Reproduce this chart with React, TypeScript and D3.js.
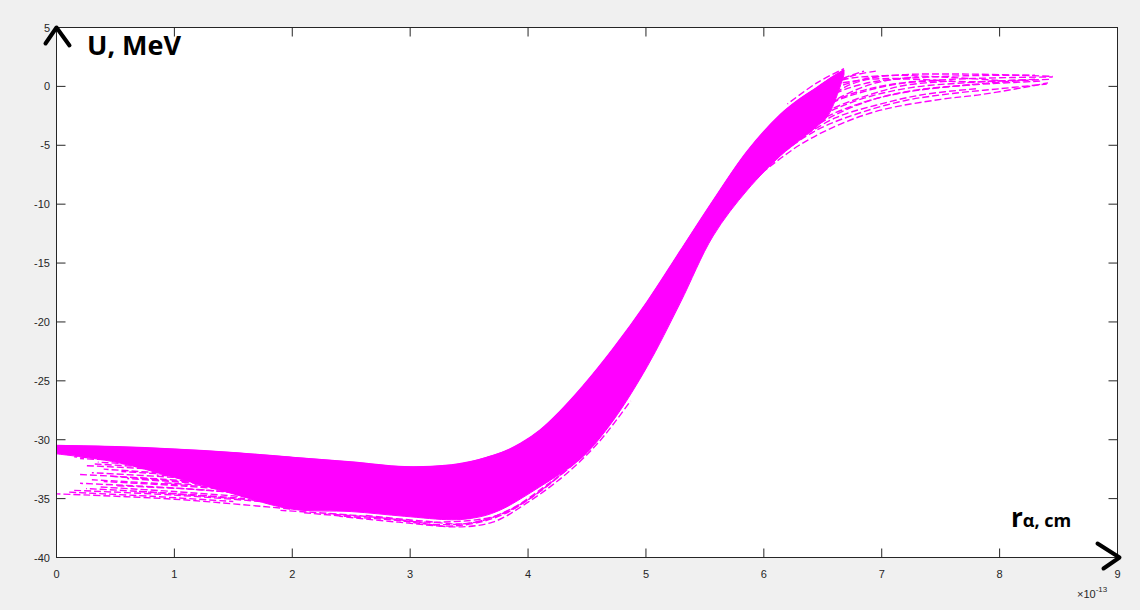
import React from "react";
import * as d3 from "d3";

// ---------- data ----------
const xTicks = [0, 1, 2, 3, 4, 5, 6, 7, 8, 9];
const yTicks = [-40, -35, -30, -25, -20, -15, -10, -5, 0, 5];

// dense core of the curve family
const bandX = [0, 0.5, 1, 1.5, 2, 2.5, 2.95, 3.35, 3.5, 3.65, 3.8, 3.94, 4.1, 4.27, 4.47, 4.72, 5.01, 5.29, 5.57, 5.86, 6.14, 6.3, 6.45, 6.55, 6.68];
const bandUpper = [-30.5, -30.6, -30.8, -31.1, -31.5, -31.9, -32.3, -32.15, -31.9, -31.5, -31.0, -30.3, -29.2, -27.6, -25.4, -22.3, -18.3, -14.0, -9.7, -5.5, -2.4, -1.1, -0.1, 0.6, 1.4];
const bandLower = [-31.2, -31.9, -33.2, -34.6, -35.9, -36.1, -36.5, -36.8, -36.7, -36.4, -35.8, -35.0, -34.0, -32.9, -31.4, -28.4, -23.8, -18.4, -12.7, -8.8, -5.9, -4.6, -3.4, -2.4, 1.0];

// individual dashed curves visible at the ragged lower-left
const leftCurves: [number, number][][] = [
  [[0.3, -31.3], [1.0, -31.7], [1.8, -32.2]],
  [[0.2, -31.6], [1.0, -32.0], [1.8, -32.6]],
  [[0.35, -31.9], [1.0, -32.3], [1.8, -32.9]],
  [[0.25, -32.2], [1.0, -32.6], [1.8, -33.2]],
  [[0.4, -32.5], [1.0, -32.9], [1.8, -33.5]],
  [[0.3, -32.8], [1.0, -33.2], [1.8, -33.8]],
  [[0.45, -33.1], [1.0, -33.5], [1.8, -34.1]],
  [[0.3, -33.4], [1.0, -33.8], [1.8, -34.4]],
  [[0.2, -33.7], [1.0, -34.1], [1.8, -34.7]],
  [[0.35, -34.0], [1.0, -34.4], [1.8, -35.0]],
  [[0.15, -34.3], [1.0, -34.7], [1.8, -35.3]],
  [[0.0, -34.6], [1.0, -35.05], [2.0, -35.9]],
  [[0.5, -31.5], [1.2, -31.9], [2.0, -32.6]],
  [[0.6, -32.1], [1.3, -32.6], [2.0, -33.3]],
  [[0.55, -32.7], [1.3, -33.2], [2.0, -33.9]],
  [[0.6, -33.3], [1.3, -33.8], [2.0, -34.5]],
  [[0.5, -33.9], [1.3, -34.3], [2.0, -35.0]],
  [[0.7, -34.4], [1.4, -34.9], [2.1, -35.5]],
  [[0.15, -31.45], [0.8, -31.8], [1.5, -32.3]],
  [[0.3, -32.05], [0.9, -32.4], [1.6, -32.9]],
  [[0.2, -32.95], [0.9, -33.35], [1.6, -33.9]],
  [[0.4, -33.55], [1.1, -33.95], [1.7, -34.45]],
  [[0.25, -34.15], [0.9, -34.5], [1.6, -35.0]],
  [[0.1, -34.45], [0.8, -34.8], [1.5, -35.25]],
  [[0.8, -32.35], [1.5, -32.85], [2.2, -33.6]],
  [[0.85, -33.0], [1.5, -33.5], [2.2, -34.2]],
  [[0.9, -33.65], [1.6, -34.15], [2.3, -34.9]],
];

// dashed curves at the ragged bottom of the well
const bottomCurves: [number, number][][] = [
  [[1.9, -36.0], [2.5, -36.4], [3.0, -36.9], [3.35, -37.4], [3.7, -37.0], [4.0, -35.3], [4.3, -33.1], [4.6, -30.2], [4.87, -26.7]],
  [[2.3, -36.3], [2.8, -36.7], [3.2, -37.2], [3.6, -36.9], [3.95, -35.4], [4.25, -33.2], [4.55, -30.4]],
  [[2.6, -36.4], [3.1, -36.9], [3.5, -37.1], [3.85, -35.9], [4.15, -33.9], [4.45, -31.5], [4.75, -27.9]],
  [[2.1, -36.2], [2.7, -36.7], [3.25, -37.0], [3.75, -36.4], [4.1, -34.4], [4.4, -31.9]],
  [[2.4, -36.5], [2.9, -37.0], [3.4, -37.3], [3.8, -36.3], [4.2, -33.6]],
];

// dashed curves in the upper-right tail
const tailCurves: [number, number][][] = [
  [[5.9, -5.5], [6.2, -2.5], [6.5, -0.6], [6.84, 0.6], [7.2, 1.0], [7.6, 1.05], [8.0, 1.0], [8.45, 0.85]],
  [[5.9, -6.5], [6.3, -3.0], [6.7, -0.8], [7.1, 0.2], [7.6, 0.6], [8.1, 0.75], [8.45, 0.8]],
  [[6.0, -6.5], [6.4, -3.3], [6.8, -1.5], [7.2, -0.5], [7.7, 0.1], [8.2, 0.5], [8.42, 0.6]],
  [[5.95, -7.6], [6.3, -5.0], [6.65, -3.2], [7.0, -2.0], [7.5, -1.1], [7.84, -0.7], [8.2, -0.1], [8.41, 0.3]],
  [[6.1, -5.2], [6.5, -1.8], [6.9, -0.3], [7.3, 0.4], [7.8, 0.4], [8.3, 0.6]],
  [[6.2, -3.0], [6.6, 0.3], [7.0, 0.9], [7.5, 0.8], [8.0, 0.5]],
  [[6.0, -4.0], [6.4, -0.5], [6.8, 0.5], [7.2, 0.7], [7.7, 0.9], [8.3, 0.95]],
  [[6.05, -6.4], [6.5, -3.0], [6.9, -1.2], [7.3, -0.3], [7.8, 0.15], [8.35, 0.45]],
  [[6.1, -6.0], [6.45, -3.7], [6.8, -2.3], [7.2, -1.2], [7.6, -0.6], [8.0, -0.2], [8.4, 0.2]],
  [[6.15, -4.4], [6.5, -2.4], [6.85, -1.0], [7.25, -0.1], [7.7, 0.3], [8.2, 0.55]],
  [[6.2, -1.5], [6.45, 0.3], [6.68, 1.5]],
  [[6.3, -1.5], [6.55, 0.2], [6.85, 1.3]],
  [[6.35, -2.5], [6.7, 0.0], [7.0, 0.9]],
  [[6.25, -3.8], [6.6, -1.2], [6.95, 0.3], [7.3, 0.8]],
  [[6.2, -2.2], [6.5, -0.2], [6.75, 0.9], [6.95, 1.3]],
  [[6.3, -3.4], [6.6, -1.8], [6.9, -0.7], [7.2, 0.1], [7.6, 0.45]],
  [[6.25, -4.8], [6.6, -2.7], [6.95, -1.6], [7.35, -0.7], [7.8, -0.2]],
  [[6.15, -3.4], [6.5, -1.1], [6.8, 0.1], [7.1, 0.6], [7.5, 0.5]],
];

// ---------- layout ----------
const W = 1140;
const H = 610;
const left = 56.5;
const right = 1117.5;
const top = 27.5;
const bottom = 557.5;
const MAGENTA = "#ff00ff";
const AX = "#262626";

export default function App() {
  const x = d3.scaleLinear().domain([0, 9]).range([left, right]);
  const y = d3.scaleLinear().domain([-40, 5]).range([bottom, top]);

  const area = d3
    .area<number>()
    .x((_, i) => x(bandX[i]))
    .y0((_, i) => y(bandLower[i]))
    .y1((_, i) => y(bandUpper[i]))
    .curve(d3.curveCatmullRom.alpha(0.5));

  const line = d3
    .line<[number, number]>()
    .x((d) => x(d[0]))
    .y((d) => y(d[1]))
    .curve(d3.curveCatmullRom.alpha(0.5));

  const upperLine = d3
    .line<number>()
    .x((_, i) => x(bandX[i]))
    .y((d) => y(d))
    .curve(d3.curveCatmullRom.alpha(0.5));

  const tickLen = 9;
  const allCurves = [...leftCurves, ...bottomCurves, ...tailCurves];

  return (
    <svg
      width={W}
      height={H}
      style={{ position: "absolute", left: 0, top: 0, display: "block" }}
      fontFamily="'Liberation Sans', Arial, sans-serif"
    >
      <rect x={0} y={0} width={W} height={H} fill="#f0f0f0" />
      <rect x={left} y={top} width={right - left} height={bottom - top} fill="#ffffff" />

      {/* dense band */}
      <path d={area(bandX) || ""} fill={MAGENTA} stroke={MAGENTA} strokeWidth={1} />
      <path d={upperLine(bandUpper) || ""} fill="none" stroke={MAGENTA} strokeWidth={1.5} />

      {/* individual dashed curves */}
      {allCurves.map((c, i) => (
        <path
          key={i}
          d={line(c) || ""}
          fill="none"
          stroke={MAGENTA}
          strokeWidth={1.4}
          strokeDasharray="7,3"
          strokeDashoffset={(i * 3) % 10}
        />
      ))}

      {/* axes box */}
      <rect x={left} y={top} width={right - left} height={bottom - top} fill="none" stroke={AX} strokeWidth={1} />

      {/* x ticks */}
      {xTicks.map((t) => (
        <g key={"x" + t}>
          <line x1={x(t)} x2={x(t)} y1={bottom} y2={bottom - tickLen} stroke={AX} />
          <line x1={x(t)} x2={x(t)} y1={top} y2={top + tickLen} stroke={AX} />
          <text x={x(t)} y={578} textAnchor="middle" fontSize={11} fill={AX}>
            {t}
          </text>
        </g>
      ))}
      {/* y ticks */}
      {yTicks.map((t) => (
        <g key={"y" + t}>
          <line x1={left} x2={left + tickLen} y1={y(t)} y2={y(t)} stroke={AX} />
          <line x1={right} x2={right - tickLen} y1={y(t)} y2={y(t)} stroke={AX} />
          <text x={50} y={y(t) + 4} textAnchor="end" fontSize={11} fill={AX}>
            {t}
          </text>
        </g>
      ))}

      {/* exponent */}
      <text x={1077} y={598} fontSize={11} fill={AX}>
        ×10
        <tspan dy={-6} fontSize={8}>
          -13
        </tspan>
      </text>

      {/* hand-drawn axis arrows */}
      <polyline
        points={`${left - 11},${top + 16} ${left},${top} ${left + 13},${top + 18}`}
        fill="none"
        stroke="#000"
        strokeWidth={4}
        strokeLinecap="round"
        strokeLinejoin="round"
      />
      <polyline
        points={`${right - 20},${bottom - 14} ${right + 2},${bottom} ${right - 14},${bottom + 11}`}
        fill="none"
        stroke="#000"
        strokeWidth={4}
        strokeLinecap="round"
        strokeLinejoin="round"
      />

      {/* axis titles */}
      <text x={87} y={55} fontFamily="'Open Sans', sans-serif" fontWeight="bold" fontSize={27} fill="#000">
        U, MeV
      </text>
      <text x={1011} y={527} fontFamily="'Open Sans', sans-serif" fontWeight="bold" fill="#000">
        <tspan fontSize={26}>r</tspan>
        <tspan fontSize={18}>α, cm</tspan>
      </text>
    </svg>
  );
}
